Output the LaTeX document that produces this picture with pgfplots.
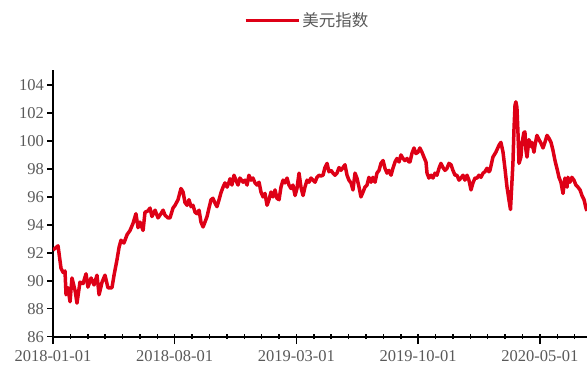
\documentclass[border=0pt]{standalone}
\usepackage{pgfplots}
\pgfplotsset{compat=1.18}
\usepackage{pgfplotstable}
\usepackage{fontspec}
\setmainfont{Liberation Serif}
\newfontfamily\cjk{Noto Sans CJK SC}
\definecolor{dxred}{RGB}{222,0,22}
\definecolor{tickgray}{RGB}{89,89,89}
\pgfplotstableread{
m v
0.00 92.2
0.29 92.5
0.46 90.9
0.58 90.6
0.69 90.7
0.75 89.0
0.86 89.5
0.98 88.5
1.09 90.2
1.27 89.3
1.38 88.4
1.55 89.9
1.73 89.8
1.90 90.5
2.01 89.55
2.19 90.2
2.36 89.7
2.53 90.4
2.65 89.0
2.82 89.9
2.99 90.4
3.16 89.5
3.39 89.5
3.51 90.4
3.68 91.5
3.80 92.4
3.91 92.9
4.08 92.7
4.26 93.3
4.43 93.6
4.60 94.1
4.77 94.8
4.89 93.8
5.00 94.2
5.18 93.6
5.29 94.9
5.46 95.0
5.58 95.2
5.69 94.6
5.87 95.05
6.04 94.5
6.21 94.8
6.33 95.05
6.44 94.7
6.61 94.5
6.73 94.5
6.90 95.2
7.02 95.4
7.19 95.8
7.36 96.6
7.48 96.35
7.59 95.6
7.71 95.4
7.82 95.8
7.94 95.3
8.05 95.4
8.17 94.9
8.28 94.8
8.40 95.05
8.51 94.2
8.63 93.85
8.74 94.2
8.86 94.6
8.97 95.2
9.09 95.8
9.20 95.9
9.32 95.55
9.43 95.3
9.55 95.8
9.66 96.3
9.78 96.7
9.89 97.0
10.01 96.7
10.12 97.05
10.18 97.3
10.29 96.85
10.41 97.55
10.52 97.2
10.64 96.85
10.75 97.35
10.93 97.05
11.04 97.2
11.16 96.85
11.27 97.55
11.39 97.2
11.50 97.35
11.62 97.0
11.73 96.85
11.85 97.05
11.96 96.35
12.08 96.0
12.19 96.25
12.31 95.4
12.42 95.8
12.54 96.35
12.65 96.0
12.77 96.5
12.88 95.9
13.00 95.8
13.11 96.7
13.23 97.2
13.34 97.0
13.46 97.35
13.57 96.85
13.69 96.6
13.80 96.85
13.92 96.1
14.03 96.6
14.15 97.7
14.26 96.7
14.38 96.1
14.49 96.7
14.61 97.2
14.72 97.05
14.84 97.35
14.95 97.2
15.07 97.05
15.18 97.4
15.30 97.55
15.41 97.5
15.53 97.55
15.64 98.1
15.76 98.4
15.87 97.8
15.99 97.9
16.10 97.7
16.22 97.55
16.33 97.7
16.45 98.1
16.56 97.9
16.68 98.1
16.79 98.3
16.91 97.55
17.02 97.2
17.14 97.0
17.25 96.5
17.37 97.7
17.48 97.35
17.60 96.7
17.71 96.0
17.83 96.35
17.94 96.7
18.06 96.85
18.17 97.4
18.29 97.05
18.40 97.4
18.52 97.05
18.63 97.7
18.75 97.9
18.86 98.4
18.98 98.6
19.09 98.05
19.21 97.7
19.32 97.9
19.44 97.55
19.55 98.05
19.67 98.5
19.78 98.75
19.90 98.5
20.01 99.0
20.13 98.75
20.24 98.6
20.36 98.75
20.47 98.5
20.53 98.5
20.64 99.1
20.76 99.5
20.87 99.1
20.99 99.2
21.10 99.5
21.22 99.2
21.33 98.85
21.45 98.5
21.51 97.7
21.62 97.35
21.74 97.55
21.85 97.35
21.97 97.7
22.08 97.55
22.20 98.05
22.31 98.4
22.43 98.1
22.54 97.9
22.66 98.05
22.77 98.4
22.89 98.3
23.00 97.9
23.12 97.55
23.23 97.55
23.35 97.2
23.46 97.35
23.58 97.55
23.69 97.2
23.81 97.55
23.92 97.2
24.04 96.5
24.15 97.0
24.27 97.35
24.38 97.35
24.50 97.55
24.61 97.4
24.73 97.7
24.84 97.8
24.96 98.05
25.07 97.8
25.13 97.9
25.30 98.85
25.47 99.2
25.65 99.7
25.76 99.9
25.88 99.2
25.99 98.05
26.11 96.7
26.22 95.8
26.31 95.1
26.39 97.0
26.45 98.4
26.51 100.8
26.57 102.55
26.62 102.8
26.68 102.4
26.74 100.6
26.80 98.4
26.91 98.85
26.97 99.85
27.08 100.6
27.14 100.65
27.20 99.35
27.26 98.85
27.37 100.1
27.49 99.6
27.54 99.9
27.66 99.2
27.72 99.7
27.83 100.4
27.95 100.1
28.06 99.85
28.18 99.5
28.29 99.9
28.41 100.4
28.52 100.2
28.64 99.9
28.75 99.35
28.87 98.6
28.98 98.05
29.10 97.4
29.21 97.05
29.33 96.25
29.44 97.35
29.56 96.7
29.61 97.4
29.73 97.05
29.84 97.4
29.96 97.2
30.07 96.85
30.19 96.7
30.31 96.5
30.42 96.1
30.54 95.8
30.65 95.2
30.71 95.0
}\dxy
\begin{document}
\begin{tikzpicture}
\begin{axis}[
  at={(0,0)}, anchor=south west,
  scale only axis,
  width=534bp, height=267bp,
  xmin=0, xmax=30.71,
  ymin=86, ymax=105.1,
  axis x line*=bottom, axis y line*=left,
  axis line style={line width=1.6bp, black},
  xtick={0,1,...,30},
  xticklabels={},
  extra x ticks={0,7,14,21,28},
  extra x tick labels={2018-01-01,2018-08-01,2019-03-01,2019-10-01,2020-05-01},
  extra x tick style={major tick length=10.3bp},
  ytick={86,88,...,104},
  tick align=outside,
  major tick length=5.5bp,
  major x tick style={yshift=3bp},
  tick style={line width=1.5bp, black},
  /pgf/number format/assume math mode=true,
  ticklabel style={font=\fontsize{16.5bp}{19bp}\selectfont, text=tickgray},
  legend style={at={(0.4757,1.185)}, anchor=center, draw=none, fill=none,
     font=\cjk\fontsize{16.5bp}{19bp}\selectfont, text=tickgray},
  legend image code/.code={\draw[#1] (0bp,0bp) -- (53bp,0bp);},
]
\addplot[dxred, line width=3.5bp, line join=round] table[x=m, y=v] {\dxy};
\addlegendentry{美元指数}
\end{axis}
\pgfresetboundingbox
\path[use as bounding box] (-53bp,-30.3bp) rectangle (534bp,336.7bp);
\end{tikzpicture}
\end{document}
